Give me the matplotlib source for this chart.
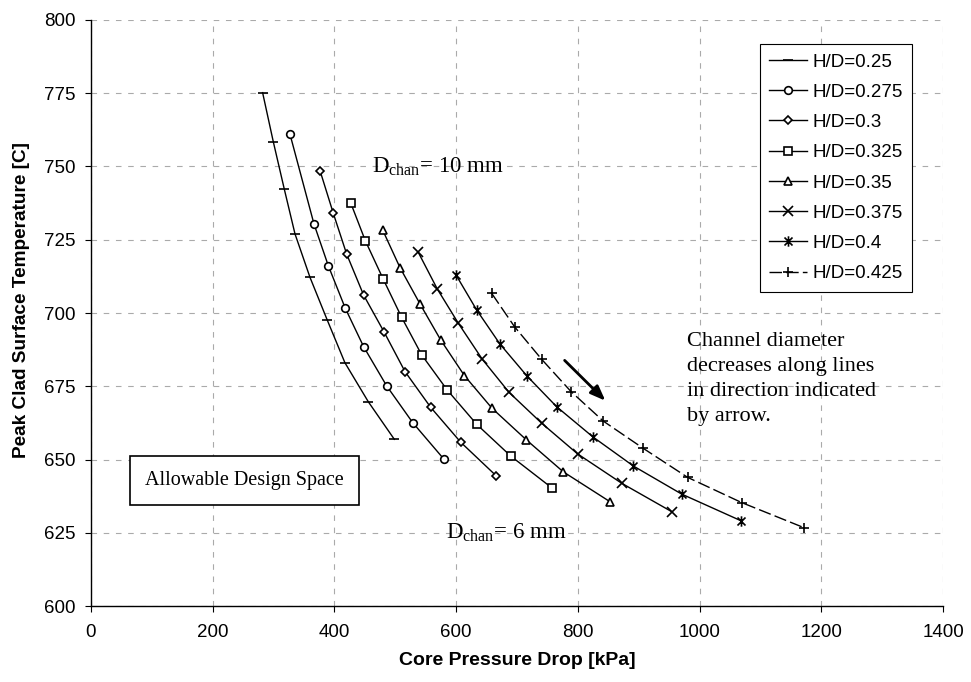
import matplotlib
matplotlib.use("Agg")
import matplotlib.pyplot as plt
from matplotlib.path import Path

# ---------------- data ----------------
labels = ["H/D=0.25", "H/D=0.275", "H/D=0.3", "H/D=0.325",
          "H/D=0.35", "H/D=0.375", "H/D=0.4", "H/D=0.425"]

x_025 = [282, 299.5, 317.6, 335.2, 359.8, 388.2, 417.3, 455.7, 498.4]
y_025 = [775.2, 758.5, 742.3, 727.0, 712.2, 697.6, 683.0, 669.7, 656.9]

x_0275 = [327, 366.4, 390, 417.9, 448, 485.9, 528.6, 580]
y_0275 = [761.0, 730.4, 716.1, 701.6, 688.5, 675.1, 662.6, 650.1]

x_030 = [376.3, 398.2, 420.1, 448, 481.4, 516, 558.2, 607.5, 665.5]
y_030 = [748.6, 734.0, 720.1, 706.1, 693.6, 680.0, 667.8, 655.9, 644.5]

x_0325 = [426.7, 450.7, 480.3, 510.5, 543.4, 585.4, 633.8, 689.6, 758]
y_0325 = [737.6, 724.7, 711.5, 698.5, 685.7, 673.7, 662.0, 651.2, 640.2]

x_035 = [479.3, 507.7, 540.6, 574.6, 613.7, 658.9, 715.4, 776, 852.8]
y_035 = [728.3, 715.5, 703.1, 690.8, 678.6, 667.5, 656.7, 645.8, 635.6]

x_0375 = [537.8, 569, 603.6, 643, 687, 740.5, 799.7, 872, 954.2]
y_0375 = [720.7, 708.2, 696.5, 684.2, 672.9, 662.4, 651.9, 641.9, 632.2]

x_040 = [599.7, 633.8, 672, 716.4, 765.2, 824.8, 891.1, 970.6, 1068]
y_040 = [713.0, 701.0, 689.4, 678.5, 668.0, 657.7, 647.8, 638.2, 629.1]

x_0425 = [658.4, 696, 740.5, 788.7, 841.8, 907.5, 980.4, 1069.2, 1172]
y_0425 = [706.7, 695.3, 684.2, 673.2, 663.1, 653.8, 643.9, 635.3, 626.7]

xs = [x_025, x_0275, x_030, x_0325, x_035, x_0375, x_040, x_0425]
ys = [y_025, y_0275, y_030, y_0325, y_035, y_0375, y_040, y_0425]

x_ticks = [0, 200, 400, 600, 800, 1000, 1200, 1400]
y_ticks = [600, 625, 650, 675, 700, 725, 750, 775, 800]

# ---------------- style ----------------
sans = "Liberation Sans"
serif = "Liberation Serif"
plt.rcParams["mathtext.fontset"] = "custom"
plt.rcParams["mathtext.rm"] = serif
plt.rcParams["mathtext.it"] = serif + ":italic"

# Excel-like "star" marker: an x with a vertical bar
star_path = Path([(-1, -1), (1, 1), (-1, 1), (1, -1), (0, -1.3), (0, 1.3)],
                 [Path.MOVETO, Path.LINETO, Path.MOVETO, Path.LINETO,
                  Path.MOVETO, Path.LINETO])

markers = ["_", "o", "D", "s", "^", "x", star_path, "+"]
msizes = [7, 5.5, 4.5, 5.5, 6, 7, 7.5, 7]
linestyles = ["-", "-", "-", "-", "-", "-", "-", (0, (9, 3))]

fig = plt.figure(figsize=(9.71, 6.82), dpi=100)
ax = fig.add_axes([0.0937, 0.1114, 0.8775, 0.8593])

for i in range(len(labels)):
    ax.plot(xs[i], ys[i], color="black", linewidth=1.0,
            linestyle=linestyles[i], marker=markers[i], markersize=msizes[i],
            markerfacecolor="white", markeredgecolor="black",
            markeredgewidth=1.2, label=labels[i])

ax.set_xlim(0, 1400)
ax.set_ylim(600, 800)
ax.set_xticks(x_ticks)
ax.set_yticks(y_ticks)
ax.grid(True, color="#aaaaaa", linestyle=(0, (5, 6)), linewidth=0.8)
ax.set_axisbelow(True)
for s in ["top", "right"]:
    ax.spines[s].set_visible(False)
for s in ["left", "bottom"]:
    ax.spines[s].set_color("black")
    ax.spines[s].set_linewidth(1.0)

ax.tick_params(axis="both", direction="out", length=4, width=0.8,
               labelsize=13.5)
for lab in ax.get_xticklabels() + ax.get_yticklabels():
    lab.set_fontfamily(sans)
ax.tick_params(axis="x", pad=9)
ax.tick_params(axis="y", pad=7)

ax.set_xlabel("Core Pressure Drop [kPa]", fontfamily=sans, fontsize=14,
              fontweight="bold", labelpad=8)
ax.set_ylabel("Peak Clad Surface Temperature [C]", fontfamily=sans,
              fontsize=13.7, fontweight="bold")
ax.yaxis.set_label_coords(-0.071, 0.522)

leg = ax.legend(loc="upper right", bbox_to_anchor=(0.964, 0.959),
                borderaxespad=0, frameon=True, fancybox=False,
                edgecolor="black", framealpha=1,
                prop={"family": sans, "size": 13.5}, labelspacing=0.7,
                handlelength=2.0, handletextpad=0.3, borderpad=0.5)
leg.get_frame().set_linewidth(0.8)

# annotations
ax.text(462, 750, r"D$_{\mathrm{chan}}$= 10 mm", fontfamily=serif,
        fontsize=16.5, ha="left", va="center")
ax.text(584, 625, r"D$_{\mathrm{chan}}$= 6 mm", fontfamily=serif,
        fontsize=16.5, ha="left", va="center")

ax.text(980, 677.5,
        "Channel diameter\ndecreases along lines\nin direction indicated\nby arrow.",
        fontfamily=serif, fontsize=16, ha="left", va="center",
        linespacing=1.42)

ax.text(252, 642.8, "Allowable Design Space", fontfamily=serif,
        fontsize=14.5, ha="center", va="center",
        bbox=dict(boxstyle="square,pad=0.75", facecolor="white",
                  edgecolor="black", linewidth=1.2))

ax.annotate("", xy=(848.4, 669.4), xytext=(775, 684.5),
            arrowprops=dict(arrowstyle="-|>,head_length=0.9,head_width=0.35",
                            color="black", linewidth=2.0))

fig.savefig("out.png", dpi=100)
